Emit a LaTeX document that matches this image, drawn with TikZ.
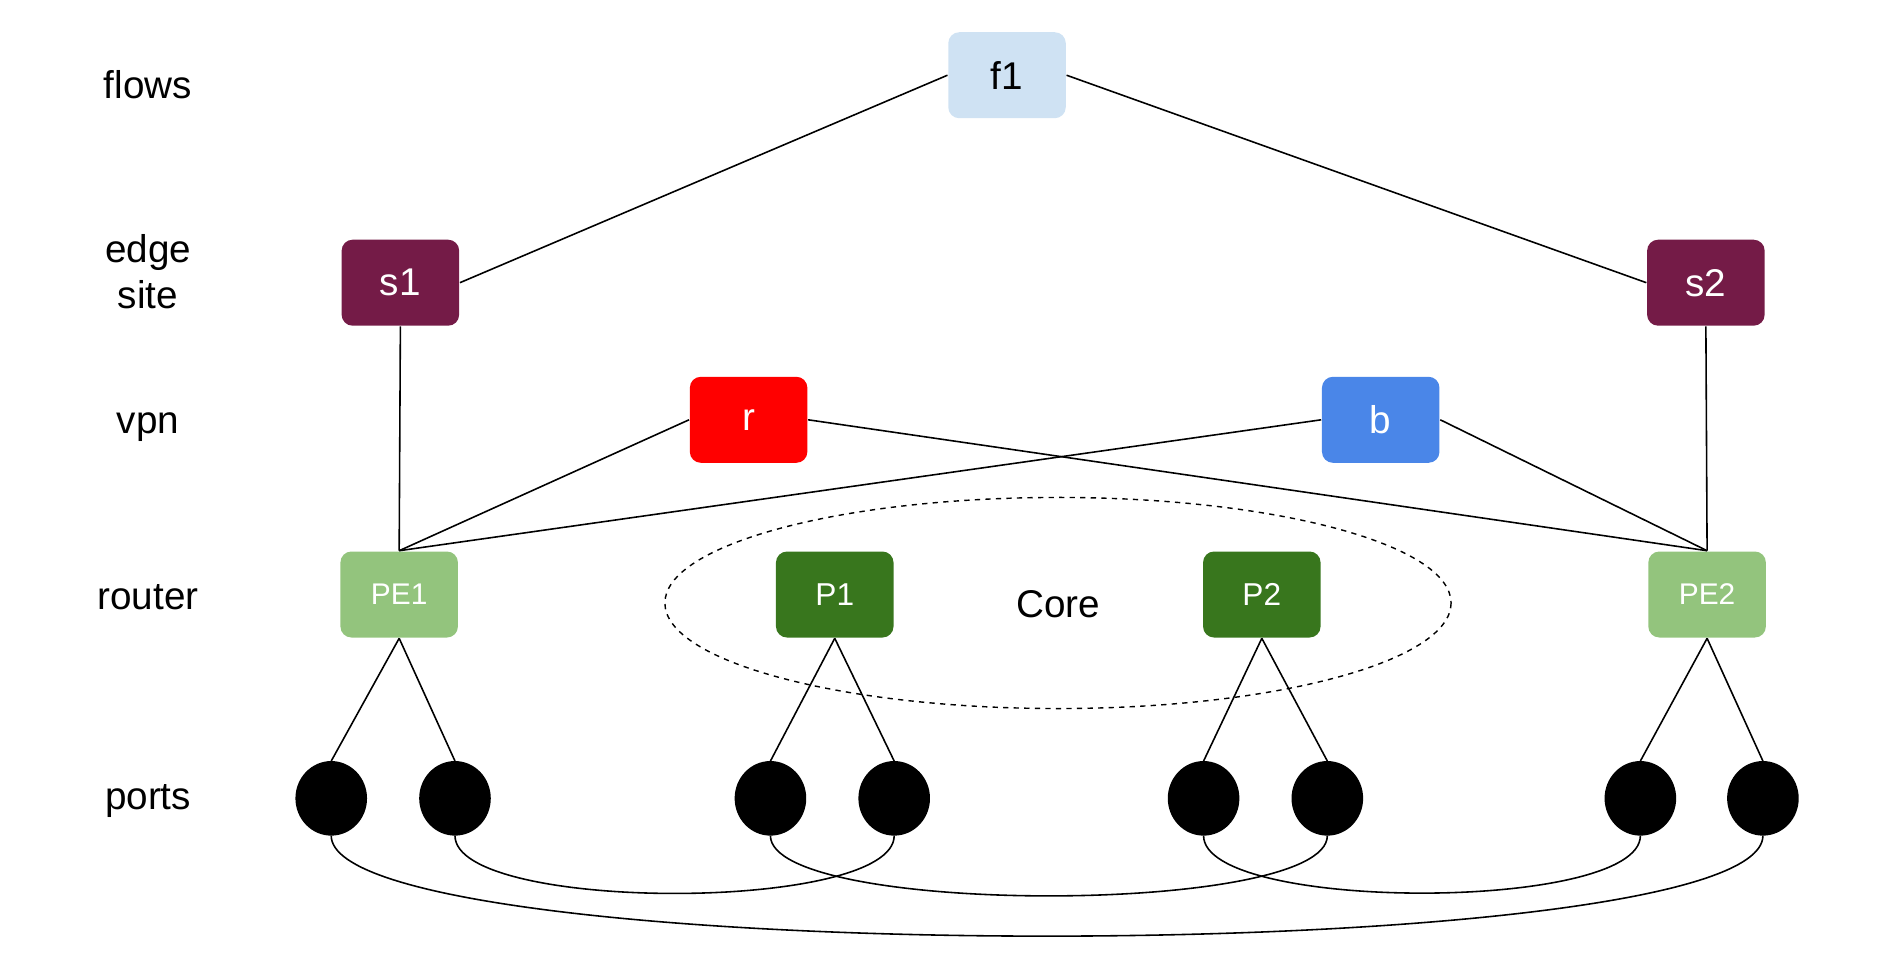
\documentclass[tikz,border=0pt]{standalone}
\usepackage{fontspec}
\setmainfont{Liberation Sans}
\usetikzlibrary{positioning, shapes.geometric}
\definecolor{FlowBlue}{HTML}{CFE2F3}
\definecolor{SiteRed}{HTML}{741B47}
\definecolor{VpnRed}{HTML}{FF0000}
\definecolor{VpnBlue}{HTML}{4A86E8}
\definecolor{PeGreen}{HTML}{93C47D}
\definecolor{CoreGreen}{HTML}{38761D}

\begin{document}
\begin{tikzpicture}[x=0.02426cm, y=-0.02426cm, line width=0.9pt,
    box/.style={rounded corners=0.22cm, minimum width=2.35cm, minimum height=1.72cm, text=white, font=\fontsize{22}{24}\selectfont},
    port/.style={draw, fill=black, ellipse, minimum width=1.4cm, minimum height=1.46cm, inner sep=0pt},
    layer/.style={font=\fontsize{22}{26}\selectfont, align=center}]
    \useasboundingbox (0,0) rectangle (1566,799);

    % Layer names
    \node[layer] at (122,70) {flows};
    \node[layer] at (122,224) {edge\\site};
    \node[layer] at (122,352) {vpn};
    \node[layer] at (122,492) {router};
    \node[layer] at (122,660) {ports};

    % Boxes
    \node[box, fill=FlowBlue, text=black] (f1) at (830,62) {f1};
    \node[box, fill=SiteRed] (s1) at (330,233) {s1};
    \node[box, fill=SiteRed] (s2) at (1406,233) {s2};
    \node[box, fill=VpnRed] (r) at (617,346) {r};
    \node[box, fill=VpnBlue] (b) at (1138,346) {b};
    \node[box, fill=PeGreen, font=\fontsize{17}{19}\selectfont] (pe1) at (329,490) {PE1};
    \node[box, fill=CoreGreen, font=\fontsize{18}{20}\selectfont] (p1) at (688,490) {P1};
    \node[box, fill=CoreGreen, font=\fontsize{18}{20}\selectfont] (p2) at (1040,490) {P2};
    \node[box, fill=PeGreen, font=\fontsize{17}{19}\selectfont] (pe2) at (1407,490) {PE2};

    % Core
    \draw[dashed, thick] (872,497) ellipse [x radius=324, y radius=87];
    \node[font=\fontsize{22}{24}\selectfont] (core) at (872,498) {Core};

    % Ports
    \foreach \name/\x in {a1/273, a2/375, b1/635, b2/737, c1/992, c2/1094, d1/1352, d2/1453}
        \node[port] (\name) at (\x,658) {};

    % Links
    \draw (f1.west) -- (s1.east);
    \draw (f1.east) -- (s2.west);
    \draw (s1.south) -- (pe1.north);
    \draw (s2.south) -- (pe2.north);
    \draw (r.west) -- (pe1.north);
    \draw (b.west) -- (pe1.north);
    \draw (r.east) -- (pe2.north);
    \draw (b.east) -- (pe2.north);
    \foreach \r/\u/\v in {pe1/a1/a2, p1/b1/b2, p2/c1/c2, pe2/d1/d2} {
        \draw (\r.south) -- (\u.north);
        \draw (\r.south) -- (\v.north);
    }

    % Port wiring
    \draw (a2.south) to[out=-90, in=-90, looseness=0.45] (b2.south);
    \draw (b1.south) to[out=-90, in=-90, looseness=0.37] (c2.south);
    \draw (c1.south) to[out=-90, in=-90, looseness=0.45] (d1.south);
    \draw (a1.south) to[out=-90, in=-90, looseness=0.24] (d2.south);
\end{tikzpicture}
\end{document}
